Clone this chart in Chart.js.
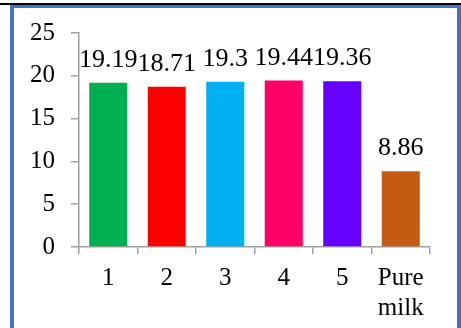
<!DOCTYPE html>
<html>
<head>
<meta charset="utf-8">
<script src="https://cdn.jsdelivr.net/npm/chart.js@4/dist/chart.umd.min.js"></script>
<style>
  html, body { margin: 0; padding: 0; background: #fff; }
  body { width: 461px; height: 328px; position: relative; overflow: hidden; }
  #topline { position: absolute; left: 0; top: 3px; width: 461px; height: 2px; background: #000; }
  #frame {
    position: absolute; left: 10px; top: 5px; width: 443px; height: 400px;
    border-left: 4px solid #4472C4; border-top: 3px solid #4472C4; border-right: 4px solid #4472C4;
    box-sizing: content-box;
  }
  #wrap { position: absolute; left: 0; top: 0; width: 461px; height: 328px; }
</style>
</head>
<body>
<div id="topline"></div>
<div id="frame"></div>
<div id="wrap"><canvas id="chart" width="461" height="328"></canvas></div>
<script>
// Samples and their measured values
const categories = ['1', '2', '3', '4', '5', ['Pure', 'milk']];
const values = [19.19, 18.71, 19.3, 19.44, 19.36, 8.86];
const valueLabels = ['19.19', '18.71', '19.3', '19.44', '19.36', '8.86'];
const barColors = ['#00B050', '#FF0000', '#00B0F0', '#FF0066', '#6600FF', '#C55A11'];
const yTicks = [0, 5, 10, 15, 20, 25];

const serif = "'Liberation Serif', 'Times New Roman', serif";
const axisGray = '#A0A0A0';

// Writes each bar's value above it
const valueLabelPlugin = {
  id: 'valueLabels',
  afterDatasetsDraw(chart) {
    const ctx = chart.ctx;
    const meta = chart.getDatasetMeta(0);
    ctx.save();
    ctx.font = '26px ' + serif;
    ctx.fillStyle = '#000';
    ctx.textAlign = 'center';
    ctx.textBaseline = 'alphabetic';
    meta.data.forEach((bar, i) => {
      ctx.fillText(valueLabels[i], bar.x, bar.y - 16);
    });
    ctx.restore();
  }
};

new Chart(document.getElementById('chart'), {
  type: 'bar',
  data: {
    labels: categories,
    datasets: [{
      data: values,
      backgroundColor: barColors,
      borderWidth: 0,
      categoryPercentage: 1.0,
      barPercentage: 0.65
    }]
  },
  options: {
    responsive: false,
    animation: false,
    devicePixelRatio: 1,
    layout: { padding: { top: 33, right: 31, bottom: 0, left: 0 } },
    plugins: { legend: { display: false }, tooltip: { enabled: false } },
    scales: {
      x: {
        grid: { display: true, drawOnChartArea: false, drawTicks: true, tickLength: 7, color: axisGray, lineWidth: 1.5, offset: true },
        border: { display: true, color: axisGray, width: 1.5 },
        ticks: { color: '#000', font: { family: serif, size: 25, lineHeight: 1.2 }, padding: 9, maxRotation: 0, autoSkip: false },
        afterFit(scale) { scale.height = 81; }
      },
      y: {
        min: 0, max: 25,
        afterBuildTicks(scale) { scale.ticks = yTicks.map(v => ({ value: v })); },
        grid: { display: true, drawOnChartArea: false, drawTicks: true, tickLength: 8, color: axisGray, lineWidth: 1.5 },
        border: { display: true, color: axisGray, width: 1.5 },
        ticks: { color: '#000', font: { family: serif, size: 25 }, padding: 16 },
        afterFit(scale) { scale.width = 79; }
      }
    }
  },
  plugins: [valueLabelPlugin]
});
</script>
</body>
</html>
